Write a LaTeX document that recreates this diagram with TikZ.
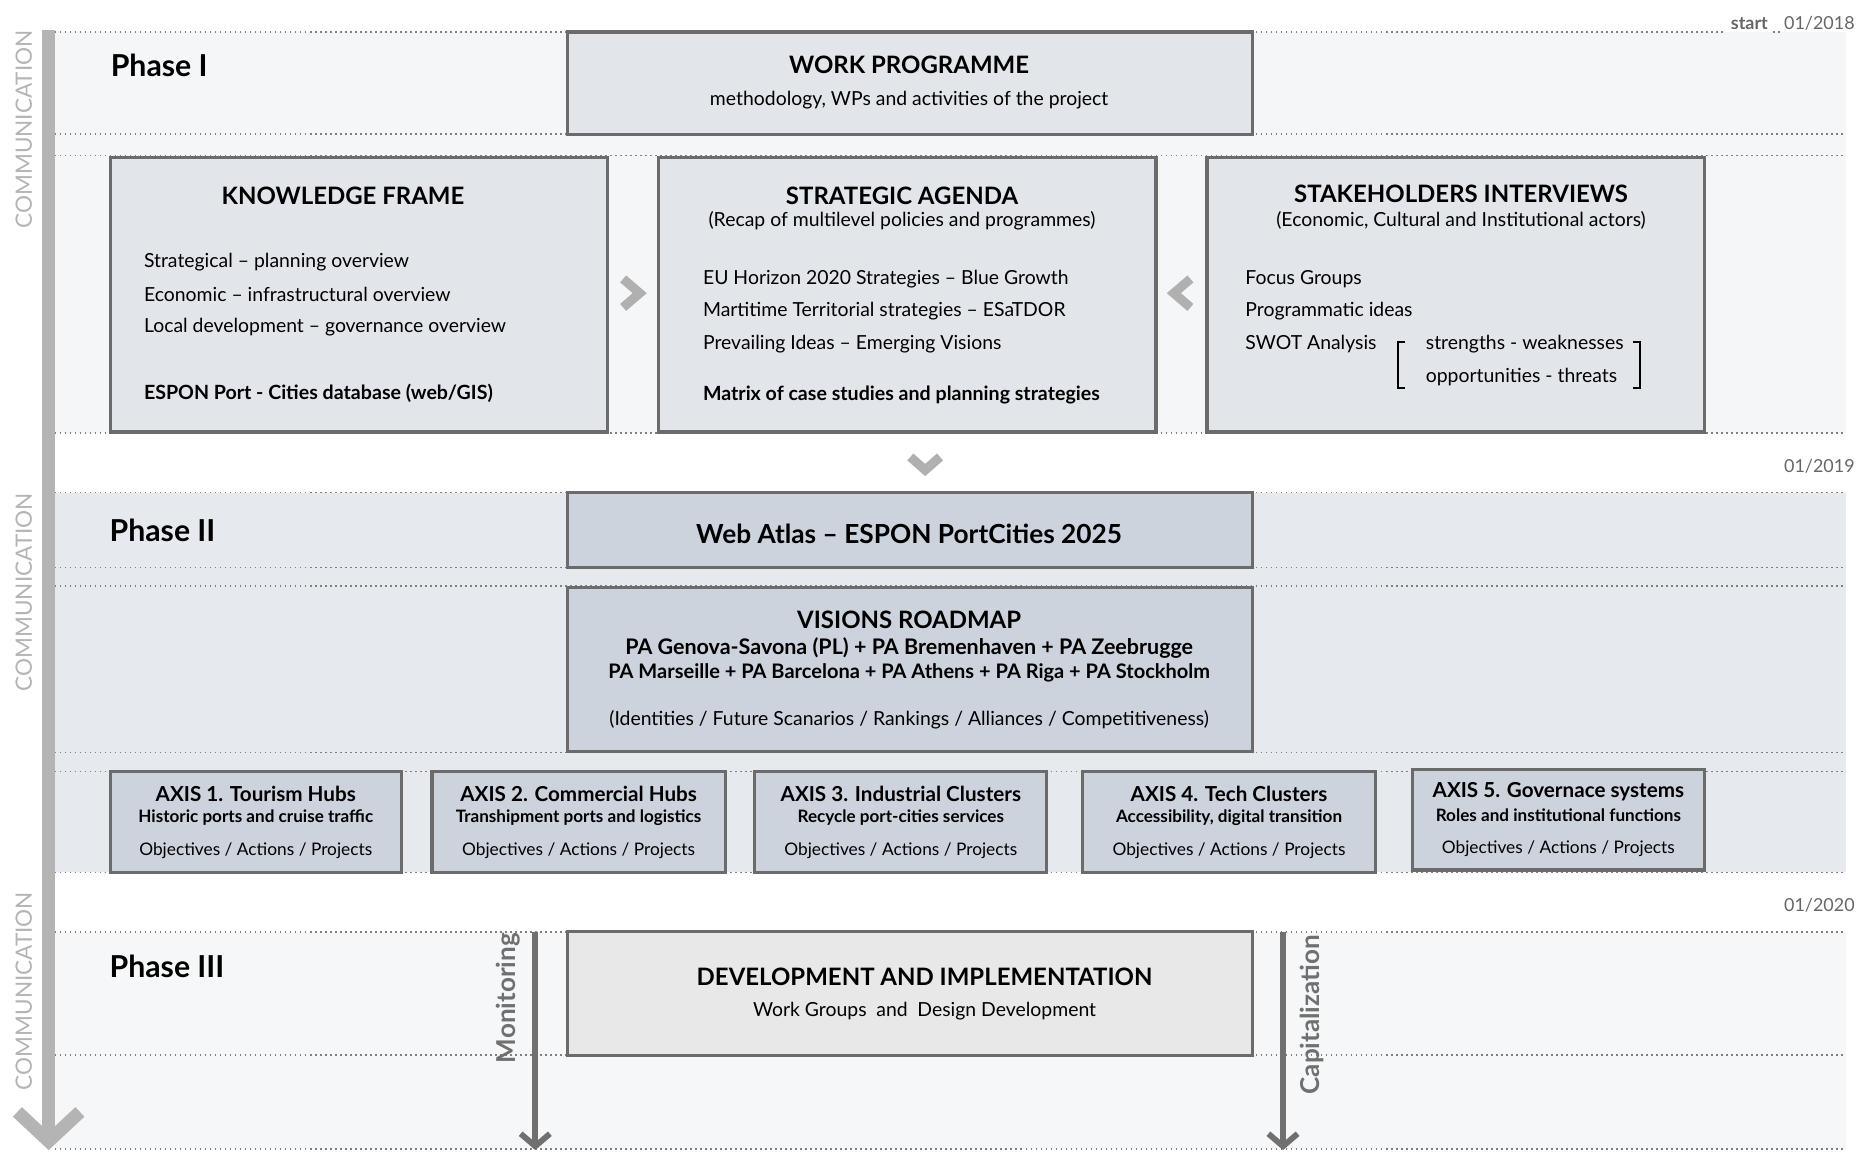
\documentclass[tikz,border=0pt]{standalone}
\usepackage{fontspec}
\setmainfont{Lato}
\usetikzlibrary{arrows.meta}

\definecolor{bandone}{HTML}{F4F6F8}
\definecolor{bandtwo}{HTML}{E6E9EE}
\definecolor{bandthree}{HTML}{F5F7F8}
\definecolor{boxpale}{HTML}{E2E6EB}
\definecolor{boxblue}{HTML}{CCD3DD}
\definecolor{boxgrey}{HTML}{E8E8E8}
\definecolor{boxline}{HTML}{6B6B6B}
\definecolor{commgrey}{HTML}{B4B4B4}
\definecolor{dotgrey}{HTML}{7F7F7F}
\definecolor{arrowgrey}{HTML}{707070}
\definecolor{chevgrey}{HTML}{B0B0B0}
\definecolor{dategrey}{HTML}{666666}

\begin{document}
\begin{tikzpicture}[x=0.02cm, y=-0.02cm,
    rowline/.style={dotgrey, line width=0.8pt, dash pattern=on 0.8pt off 1.6pt},
    phasebox/.style={draw=boxline, line width=1.5pt},
    chev/.style={chevgrey, line width=4.4pt, line join=miter},
    heading/.style={font=\bfseries\fontsize{11.5}{13}\selectfont, inner sep=0pt},
    phase/.style={font=\bfseries\fontsize{14.5}{17}\selectfont, anchor=west, inner sep=0pt},
    item/.style={font=\fontsize{9.3}{10}\selectfont, anchor=west, inner sep=0pt},
    itembold/.style={font=\bfseries\fontsize{9.4}{10}\selectfont, anchor=west, inner sep=0pt},
    note/.style={font=\fontsize{9.3}{10}\selectfont, inner sep=0pt},
    strong/.style={font=\bfseries\fontsize{9.6}{10}\selectfont, inner sep=0pt},
    axtitle/.style={font=\bfseries\fontsize{9.9}{11}\selectfont, inner sep=0pt},
    axsub/.style={font=\bfseries\fontsize{8.2}{9}\selectfont, inner sep=0pt},
    axnote/.style={font=\fontsize{8.3}{9}\selectfont, inner sep=0pt},
    side/.style={commgrey, rotate=90, font=\fontsize{10.8}{12}\selectfont, inner sep=0pt},
    flow/.style={arrowgrey, rotate=90, font=\bfseries\fontsize{12.5}{13}\selectfont, inner sep=0pt},
    date/.style={dategrey, font=\fontsize{8.6}{10}\selectfont, inner sep=0pt}
  ]
  \useasboundingbox (0,0) rectangle (1568,971);

  % bands
  \fill[bandone] (46,27) rectangle (1555,365);
  \fill[bandtwo] (46,415) rectangle (1555,735);
  \fill[bandthree] (46,785) rectangle (1555,968);

  \foreach \y in {113,131,365,415,478,494,634,650,735,785,889,968} {
    \draw[rowline] (46,\y) -- (1555,\y);
  }
  \draw[rowline] (46,27) -- (1453,27);
  \draw[rowline] (1494,27) -- (1502,27);

  % communication
  \coordinate (commtop) at (41,25);
  \coordinate (commend) at (41,969);
  \draw[commgrey, line width=6.3pt, -{Straight Barb[length=14pt,width=30pt,sharp]}] (commtop) -- (commend);
  \foreach \y [count=\i] in {109,499,835} {
    \path (20,\y) node[side] (comm\i) {COMMUNICATION};
  }

  \path (1458,25) node[date, anchor=base west, font=\bfseries\fontsize{8.6}{10}\selectfont] (start) {start};
  \path (1563,25) node[date, anchor=base east] (d18) {01/2018};
  \path (1563,393) node[date, anchor=east] (d19) {01/2019};
  \path (1563,763) node[date, anchor=east] (d20) {01/2020};

  % Phase I
  \path (93,55) node[phase] (p1) {Phase I};
  \draw[phasebox, fill=boxpale] (478,27) rectangle (1055,113);
  \path (766,55) node[heading] (wp) {WORK PROGRAMME};
  \path (766,84) node[note] (wpsub) {methodology, WPs and activities of the project};

  \draw[phasebox, fill=boxpale] (93,133) rectangle (512,364);
  \path (289,165) node[heading] (kf) {KNOWLEDGE FRAME};
  \path (121,221) node[item] (kfa) {Strategical -- planning overview};
  \path (121,248) node[item] (kfb) {Economic -- infrastructural overview};
  \path (121,276) node[item] (kfc) {Local development -- governance overview};
  \path (121,331) node[itembold] (kfd) {ESPON Port - Cities database (web/GIS)};

  \draw[phasebox, fill=boxpale] (555,133) rectangle (974,364);
  \path (760,165) node[heading] (sa) {STRATEGIC AGENDA};
  \path (760,186) node[note] (sasub) {(Recap of multilevel policies and programmes)};
  \path (592,235) node[item] (saa) {EU Horizon 2020 Strategies -- Blue Growth};
  \path (592,262) node[item] (sab) {Martitime Territorial strategies -- ESaTDOR};
  \path (592,290) node[item] (sac) {Prevailing Ideas -- Emerging Visions};
  \path (592,333) node[itembold] (sad) {Matrix of case studies and planning strategies};

  \draw[phasebox, fill=boxpale] (1017,133) rectangle (1436,364);
  \path (1231,163) node[heading] (si) {STAKEHOLDERS INTERVIEWS};
  \path (1231,186) node[note] (sisub) {(Economic, Cultural and Institutional actors)};
  \path (1049,235) node[item] (sia) {Focus Groups};
  \path (1049,262) node[item] (sib) {Programmatic ideas};
  \path (1049,290) node[item] (sic) {SWOT Analysis};
  \path (1201,290) node[item] (swa) {strengths - weaknesses};
  \path (1201,318) node[item] (swb) {opportunities - threats};
  \draw[line width=1pt] (1184,288) -- (1178,288) -- (1178,327) -- (1184,327);
  \draw[line width=1pt] (1376,288) -- (1382,288) -- (1382,327) -- (1376,327);

  \draw[chev] (525,235) -- (539,247) -- (525,259);
  \draw[chev] (1003,235) -- (989,247) -- (1003,259);
  \draw[chev] (767,385) -- (779.5,396) -- (792,385);

  % Phase II
  \path (92,447) node[phase] (p2) {Phase II};
  \draw[phasebox, fill=boxblue] (478,415) rectangle (1055,478);
  \path (766,450) node[heading, font=\bfseries\fontsize{12.6}{14}\selectfont] (atlas) {Web Atlas -- ESPON PortCities 2025};
  \draw[phasebox, fill=boxblue] (478,495) rectangle (1055,633);
  \path (766,522) node[heading] (vr) {VISIONS ROADMAP};
  \path (766,546) node[strong, font=\bfseries\fontsize{10.3}{11}\selectfont] (vra) {PA Genova-Savona (PL) + PA Bremenhaven + PA Zeebrugge};
  \path (766,567) node[strong] (vrb) {PA Marseille + PA Barcelona + PA Athens + PA Riga + PA Stockholm};
  \path (766,606) node[note] (vrc) {(Identities / Future Scanarios / Rankings / Alliances / Competitiveness)};

  \foreach \xa/\xb/\ya/\axname/\axdesc [count=\i] in {
      93/338/650/{AXIS 1. Tourism Hubs}/{Historic ports and cruise traffic},
      364/611/650/{AXIS 2. Commercial Hubs}/{Transhipment ports and logistics},
      636/882/650/{AXIS 3. Industrial Clusters}/{Recycle port-cities services},
      912/1159/650/{AXIS 4. Tech Clusters}/{Accessibility, digital transition},
      1190/1436/648/{AXIS 5. Governace systems}/{Roles and institutional functions}} {
    \draw[phasebox, fill=boxblue] (\xa,\ya) rectangle (\xb,\ya+85);
    \path ({(\xa+\xb)/2},\ya+19) node[axtitle] (axt\i) {\axname};
    \path ({(\xa+\xb)/2},\ya+39) node[axsub] (axs\i) {\axdesc};
    \path ({(\xa+\xb)/2},\ya+67) node[axnote] (axo\i) {Objectives / Actions / Projects};
  }

  % Phase III
  \path (92,814) node[phase] (p3) {Phase III};
  \draw[phasebox, fill=boxgrey] (478,785) rectangle (1055,889);
  \path (779,823) node[heading] (dev) {DEVELOPMENT AND IMPLEMENTATION};
  \path (779,852) node[note] (devsub) {Work Groups\enspace and\enspace Design Development};

  \coordinate (montop) at (451,785);
  \coordinate (monend) at (451,969);
  \draw[arrowgrey, line width=2.8pt, -{Straight Barb[length=6pt,width=14pt,sharp]}] (montop) -- (monend);
  \path (428,841) node[flow] (mon) {Monitoring};

  \coordinate (captop) at (1081,785);
  \coordinate (capend) at (1081,969);
  \draw[arrowgrey, line width=2.8pt, -{Straight Barb[length=6pt,width=14pt,sharp]}] (captop) -- (capend);
  \path (1105,855) node[flow] (cap) {Capitalization};
\end{tikzpicture}
\end{document}
